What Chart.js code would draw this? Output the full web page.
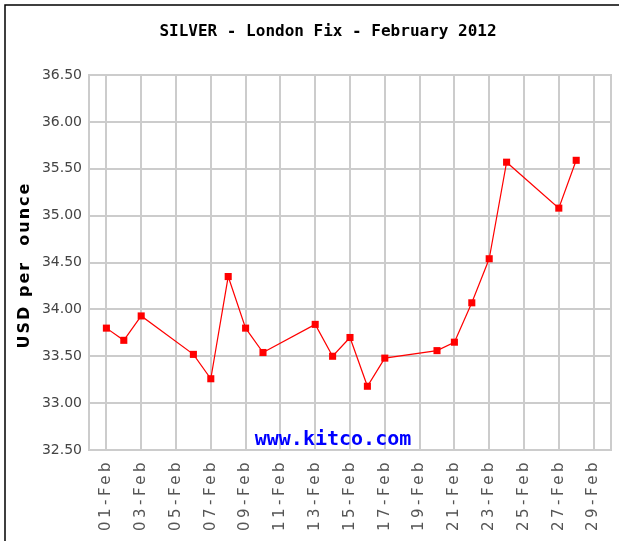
<!DOCTYPE html>
<html>
<head>
<meta charset="utf-8">
<script src="https://cdn.jsdelivr.net/npm/chart.js@4"></script>
<style>
  html, body { margin: 0; padding: 0; background: #fff; }
  #chart { display: block; }
</style>
</head>
<body>
<canvas id="chart" width="619" height="541"></canvas>
<script>
// London fix, USD per ounce, February 2012
const fixDays = [1, 2, 3, 6, 7, 8, 9, 10, 13, 14, 15, 16, 17, 20, 21, 22, 23, 24, 27, 28];
const fixPrices = [33.80, 33.67, 33.93, 33.52, 33.26, 34.35, 33.80, 33.54, 33.84, 33.50,
                   33.70, 33.18, 33.48, 33.56, 33.65, 34.07, 34.54, 35.57, 35.08, 35.59];
const tickDays = [1, 3, 5, 7, 9, 11, 13, 15, 17, 19, 21, 23, 25, 27, 29];
const tickLabels = tickDays.map(d => String(d).padStart(2, '0') + '-Feb');

const titleText = 'SILVER - London Fix - February 2012';
const yTitleText = 'USD per  ounce';
const watermark = 'www.kitco.com';

const gridColor = '#cccccc';

// frame, titles, rotated date labels and watermark
const decor = {
  id: 'decor',
  beforeDraw(chart) {
    const ctx = chart.ctx;
    ctx.save();
    ctx.fillStyle = '#fff';
    ctx.fillRect(0, 0, chart.width, chart.height);
    ctx.strokeStyle = '#000';
    ctx.lineWidth = 1.5;
    ctx.beginPath();
    ctx.moveTo(5, chart.height);
    ctx.lineTo(5, 5);
    ctx.lineTo(chart.width, 5);
    ctx.stroke();
    ctx.restore();
  },
  beforeDatasetsDraw(chart) {
    const ctx = chart.ctx;
    const a = chart.chartArea;
    ctx.save();
    ctx.strokeStyle = gridColor;
    ctx.lineWidth = 2;
    ctx.strokeRect(a.left, a.top, a.right - a.left, a.bottom - a.top);

    ctx.fillStyle = '#0000ff';
    ctx.font = 'bold 20px "DejaVu Sans Mono"';
    ctx.textAlign = 'center';
    ctx.textBaseline = 'alphabetic';
    ctx.fillText(watermark, 333, a.bottom - 5);
    ctx.restore();
  },
  afterDraw(chart) {
    const ctx = chart.ctx;
    const x = chart.scales.x;
    ctx.save();
    ctx.fillStyle = '#000';
    ctx.font = 'bold 16px "DejaVu Sans Mono"';
    ctx.textAlign = 'center';
    ctx.textBaseline = 'middle';
    ctx.fillText(titleText, 328, 32);

    ctx.font = 'bold 16px "DejaVu Sans"';
    ctx.letterSpacing = '2px';
    ctx.translate(25, 265);
    ctx.rotate(-Math.PI / 2);
    ctx.fillText(yTitleText, 0, 0);
    ctx.restore();

    ctx.save();
    ctx.fillStyle = '#555';
    ctx.font = '15px "DejaVu Sans"';
    ctx.letterSpacing = '3.5px';
    ctx.textAlign = 'right';
    ctx.textBaseline = 'middle';
    tickDays.forEach((d, i) => {
      const px = x.getPixelForValue(d);
      ctx.save();
      ctx.translate(px, x.top + 9);
      ctx.rotate(-Math.PI / 2);
      ctx.fillText(tickLabels[i], 0, 0);
      ctx.restore();
    });
    ctx.restore();
  }
};

new Chart(document.getElementById('chart').getContext('2d'), {
  type: 'line',
  data: {
    datasets: [{
      label: 'Silver',
      data: fixDays.map((d, i) => ({ x: d, y: fixPrices[i] })),
      borderColor: '#ff0000',
      backgroundColor: '#ff0000',
      borderWidth: 1.2,
      pointStyle: 'rect',
      pointRadius: 5,
      pointBorderWidth: 0,
      tension: 0
    }]
  },
  options: {
    responsive: false,
    animation: false,
    layout: { padding: { top: 75, left: 0, right: 8, bottom: 0 } },
    plugins: {
      legend: { display: false },
      tooltip: { enabled: false }
    },
    scales: {
      x: {
        type: 'linear',
        min: 0,
        max: 30,
        afterBuildTicks: s => { s.ticks = tickDays.map(v => ({ value: v })); },
        afterFit: s => { s.height = 91; },
        ticks: { display: false },
        grid: { color: gridColor, lineWidth: 2, drawTicks: false },
        border: { color: gridColor, width: 2 }
      },
      y: {
        min: 32.5,
        max: 36.5,
        afterFit: s => { s.width = 89; },
        ticks: {
          stepSize: 0.5,
          padding: 7,
          color: '#444',
          font: { family: '"DejaVu Sans"', size: 14 },
          callback: v => v.toFixed(2)
        },
        grid: { color: gridColor, lineWidth: 2, drawTicks: false },
        border: { color: gridColor, width: 2 }
      }
    }
  },
  plugins: [decor]
});
</script>
</body>
</html>
